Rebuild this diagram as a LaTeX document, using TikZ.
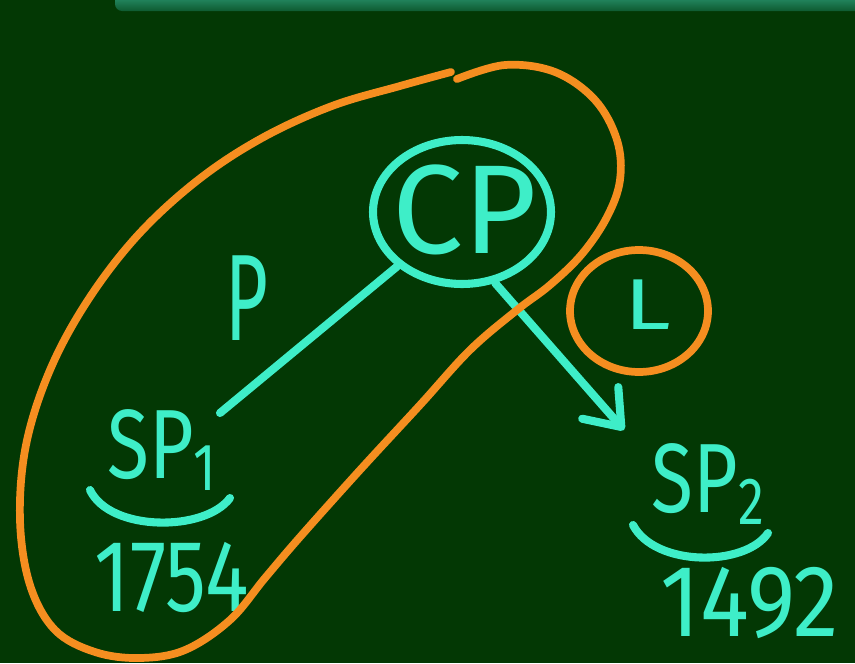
\documentclass[tikz,border=0pt]{standalone}
\usepackage{fontspec}
\setmainfont{Fira Sans}
\usetikzlibrary{arrows.meta,shapes.geometric}
\definecolor{board}{RGB}{3,56,4}
\definecolor{chalkcyan}{RGB}{62,238,200}
\definecolor{chalkorange}{RGB}{245,142,32}
\definecolor{bandtop}{RGB}{52,172,136}
\definecolor{bandbot}{RGB}{14,90,48}
\newcommand{\lowsub}[1]{\raisebox{-0.12em}{\fontsize{38}{38}\selectfont#1}}

\begin{document}
\begin{tikzpicture}[x=0.02cm,y=-0.02cm,line cap=round,line join=round,
  hand/.style={text=chalkcyan,inner sep=0pt},
  cyanpen/.style={draw=chalkcyan,line width=4.6pt},
  orangepen/.style={draw=chalkorange,line width=4.4pt},
  >={Straight Barb[length=6.4mm,width=9.6mm,round]}]
\useasboundingbox (0,0) rectangle (855,663);
\fill[board] (0,0) rectangle (855,663);
\shade[top color=bandtop,bottom color=bandbot,rounded corners=4pt] (115,-12) rectangle (870,11);
\node[ellipse,cyanpen,minimum width=3.56cm,minimum height=2.88cm] (cp) at (462,212) {};
\node[hand,font=\fontsize{72}{72}\selectfont] (cptext) at (465,210) {CP};
\node[ellipse,orangepen,minimum width=2.76cm,minimum height=2.44cm] (loss) at (639,311) {};
\node[hand,font=\fontsize{41}{41}\selectfont,xscale=1.3] (ltext) at (648,305) {L};
\node[hand,font=\fontsize{70}{70}\selectfont,xscale=0.6] (profit) at (247,298) {P};
\node[hand,font=\fontsize{56}{56}\selectfont,xscale=0.78] (sp1) at (162,450) {SP\lowsub{1}};
\node[hand,font=\fontsize{58}{58}\selectfont,xscale=0.8] (sp1val) at (172,578) {1754};
\node[hand,font=\fontsize{56}{56}\selectfont,xscale=0.78] (sp2) at (708,484) {SP\lowsub{2}};
\node[hand,font=\fontsize{58}{58}\selectfont,xscale=0.9] (sp2val) at (750,603) {1492};
\coordinate (sp1end) at (220,413);
\coordinate (sp2tip) at (624,430);
\draw[cyanpen] (cp.220) -- (sp1end);
\draw[cyanpen,->] (cp.-65) -- (sp2tip);
\draw[cyanpen] (90,490) .. controls (110,532) and (205,532) .. (230,498);
\draw[cyanpen] (633,525) .. controls (655,567) and (745,567) .. (768,533);
\draw[orangepen] plot[smooth,tension=0.6] coordinates {(457,79) (505,65) (555,72) (595,100) (617,140) (620,180) (607,217) (582,254) (550,285) (517,310) (470,350) (420,405) (360,470) (300,537) (265,578) (230,620) (185,650) (140,658) (95,652) (55,630) (30,585) (20,520) (26,445) (50,370) (88,300) (138,235) (198,180) (262,138) (332,106) (400,86) (451,72)};
\end{tikzpicture}
\end{document}
